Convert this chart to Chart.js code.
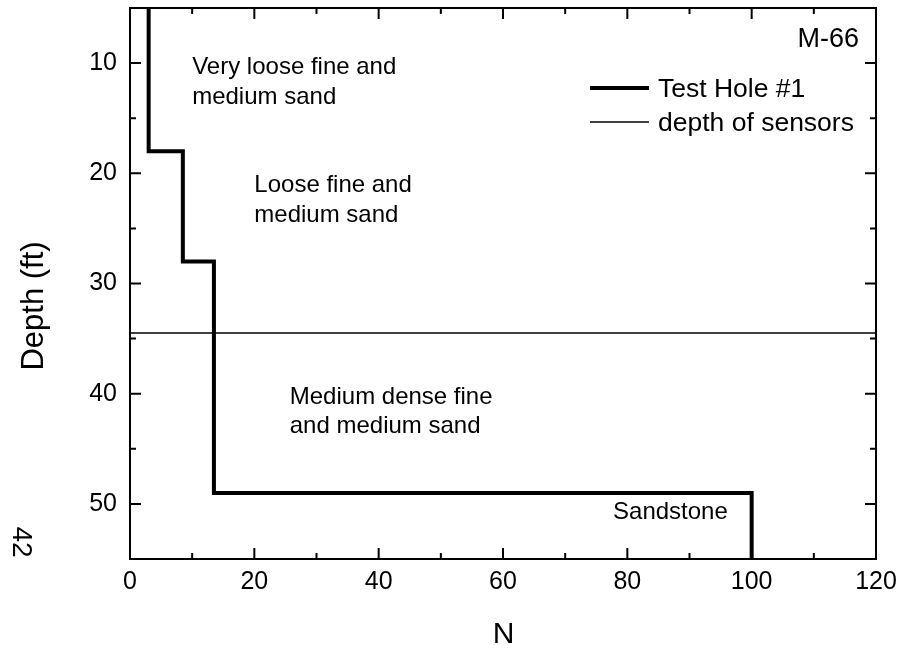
<!DOCTYPE html>
<html>
<head>
<meta charset="utf-8">
<title>M-66 boring log</title>
<script src="https://cdn.jsdelivr.net/npm/chart.js@4.4.0/dist/chart.umd.js"></script>
<style>
  html, body { margin: 0; padding: 0; background: #fff; }
  canvas { display: block; }
</style>
</head>
<body>
<canvas id="log" width="903" height="651"></canvas>
<script>
// Layer boundaries (ft) and blow count N within each layer
const layerDepths = [5, 18, 28, 49, 55];
const layerN = [3, 8.5, 13.5, 100];
const sensorDepth = 34.5;

const xTicks = [0, 20, 40, 60, 80, 100, 120];
const yTicks = [10, 20, 30, 40, 50];

const FONT = '"Liberation Sans", Arial, Helvetica, sans-serif';

// Step profile: vertical run through each layer, horizontal jump at each boundary
const profile = [];
layerN.forEach((n, i) => {
  profile.push({ x: n, y: layerDepths[i] });
  profile.push({ x: n, y: layerDepths[i + 1] });
});

// Soil descriptions, anchored in data units (left edge, first baseline)
const notes = [
  { n: 10, d: 11, lines: ['Very loose fine and', 'medium sand'] },
  { n: 20, d: 21.7, lines: ['Loose fine and', 'medium sand'] },
  { n: 25.7, d: 40.9, lines: ['Medium dense fine', 'and medium sand'] },
  { n: 77.7, d: 51.4, lines: ['Sandstone'] }
];

const decorations = {
  id: 'decorations',
  afterDraw(chart) {
    const { ctx, chartArea: a, scales: { x, y } } = chart;
    ctx.save();
    ctx.strokeStyle = '#000';
    ctx.fillStyle = '#000';

    // frame
    ctx.lineWidth = 2;
    ctx.strokeRect(a.left, a.top, a.right - a.left, a.bottom - a.top);

    // inward ticks on all four sides
    ctx.beginPath();
    for (let v = 0; v <= 120; v += 10) {
      const px = x.getPixelForValue(v);
      const len = v % 20 === 0 ? 11 : 6;
      ctx.moveTo(px, a.bottom); ctx.lineTo(px, a.bottom - len);
      ctx.moveTo(px, a.top); ctx.lineTo(px, a.top + len);
    }
    for (let v = 5; v <= 55; v += 5) {
      const py = y.getPixelForValue(v);
      const len = v % 10 === 0 ? 11 : 6;
      ctx.moveTo(a.left, py); ctx.lineTo(a.left + len, py);
      ctx.moveTo(a.right, py); ctx.lineTo(a.right - len, py);
    }
    ctx.stroke();

    // layer descriptions
    ctx.font = '24px ' + FONT;
    ctx.textAlign = 'left';
    ctx.textBaseline = 'alphabetic';
    notes.forEach(note => {
      const px = x.getPixelForValue(note.n);
      const py = y.getPixelForValue(note.d);
      note.lines.forEach((t, i) => ctx.fillText(t, px, py + i * 29.5));
    });

    // boring id
    ctx.font = '27px ' + FONT;
    ctx.textAlign = 'right';
    ctx.fillText('M-66', a.right - 17, a.top + 39);

    // legend
    ctx.font = '26.5px ' + FONT;
    ctx.textAlign = 'left';
    chart.data.datasets.slice().reverse().forEach((ds, i) => {
      const ly = a.top + 80 + i * 34;
      ctx.lineWidth = ds.borderWidth;
      ctx.beginPath();
      ctx.moveTo(590, ly);
      ctx.lineTo(649, ly);
      ctx.stroke();
      ctx.fillText(ds.label, 658, ly + 9);
    });

    // axis titles
    ctx.font = '30px ' + FONT;
    ctx.textAlign = 'center';
    ctx.fillText('N', (a.left + a.right) / 2 + 0.5, 643);

    ctx.save();
    ctx.font = '31px ' + FONT;
    ctx.translate(34, 306);
    ctx.rotate(-Math.PI / 2);
    ctx.textBaseline = 'middle';
    ctx.fillText('Depth (ft)', 0, 0);
    ctx.restore();

    // page number
    ctx.save();
    ctx.font = '28px ' + FONT;
    ctx.translate(21, 542);
    ctx.rotate(Math.PI / 2);
    ctx.textBaseline = 'middle';
    ctx.fillText('42', 0, 0);
    ctx.restore();

    ctx.restore();
  }
};

new Chart(document.getElementById('log'), {
  type: 'scatter',
  data: {
    datasets: [{
      label: 'depth of sensors',
      data: [{ x: 0, y: sensorDepth }, { x: 120, y: sensorDepth }],
      showLine: true,
      borderColor: '#000',
      borderWidth: 1.5,
      pointRadius: 0
    }, {
      label: 'Test Hole #1',
      data: profile,
      showLine: true,
      borderColor: '#000',
      borderWidth: 4,
      borderJoinStyle: 'miter',
      borderCapStyle: 'butt',
      pointRadius: 0
    }]
  },
  options: {
    responsive: false,
    animation: false,
    devicePixelRatio: 1,
    layout: { padding: { top: 8, right: 27, left: 0, bottom: 0 } },
    plugins: {
      legend: { display: false },
      tooltip: { enabled: false }
    },
    scales: {
      x: {
        type: 'linear',
        min: 0,
        max: 120,
        grid: { display: false, drawTicks: false },
        border: { display: false },
        ticks: { color: '#000', font: { family: FONT, size: 25 }, padding: 8 },
        afterBuildTicks: s => { s.ticks = xTicks.map(v => ({ value: v })); },
        afterFit: s => { s.height = 92; s.paddingLeft = 0; s.paddingRight = 0; }
      },
      y: {
        type: 'linear',
        reverse: true,
        min: 5,
        max: 55,
        grid: { display: false, drawTicks: false },
        border: { display: false },
        ticks: { color: '#000', font: { family: FONT, size: 25 }, padding: 13 },
        afterBuildTicks: s => { s.ticks = yTicks.map(v => ({ value: v })); },
        afterFit: s => { s.width = 130; s.paddingTop = 0; s.paddingBottom = 0; }
      }
    }
  },
  plugins: [decorations]
});
</script>
</body>
</html>
